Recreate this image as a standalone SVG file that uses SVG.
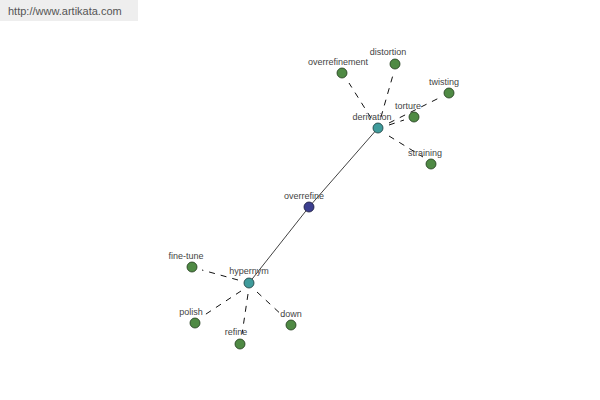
<svg xmlns="http://www.w3.org/2000/svg" width="600" height="400" viewBox="0 0 600 400">
<style>
.lbl{font-family:"Liberation Sans",Arial,sans-serif;font-size:9px;fill:#444;text-anchor:middle}
.leaf{fill:#4f8a44;stroke:#1f3a1a;stroke-width:0.8}
.hub{fill:#3f9b9b;stroke:#1a3a3a;stroke-width:0.8}
.root{fill:#3c3f8f;stroke:#1a1a3a;stroke-width:0.8}
.dash{stroke:#111;stroke-width:1;stroke-dasharray:6,6;fill:none}
.solid{stroke:#111;stroke-width:0.8;fill:none}
</style>
<rect x="0" y="0" width="138" height="21" fill="#eeeeee"/>
<text x="8" y="15" style="font-family:'Liberation Sans',Arial,sans-serif;font-size:11px;fill:#555">http://www.artikata.com</text>
<g id="connectors">
<line class="solid" x1="378" y1="128" x2="309" y2="207"/>
<line class="solid" x1="309" y1="207" x2="249" y2="283"/>
<line class="dash" x1="371" y1="118" x2="349" y2="83"/>
<line class="dash" x1="381" y1="117" x2="393" y2="75"/>
<line class="dash" x1="389" y1="123" x2="439" y2="98"/>
<line class="dash" x1="389" y1="125" x2="404" y2="120"/>
<line class="dash" x1="389" y1="136" x2="423" y2="157"/>
<line class="dash" x1="238" y1="280" x2="202" y2="270"/>
<line class="dash" x1="241" y1="291" x2="203" y2="316"/>
<line class="dash" x1="248" y1="294" x2="242" y2="334"/>
<line class="dash" x1="257" y1="292" x2="284" y2="317"/>
</g>
<g id="n-derivation"><circle class="hub" cx="378" cy="128" r="5"/><text class="lbl" x="372" y="120">derivation</text></g>
<g id="n-overrefine"><circle class="root" cx="309" cy="207" r="5"/><text class="lbl" x="304" y="199">overrefine</text></g>
<g id="n-hypernym"><circle class="hub" cx="249" cy="283" r="5"/><text class="lbl" x="249" y="274">hypernym</text></g>
<g id="n-overrefinement"><circle class="leaf" cx="342" cy="73" r="5"/><text class="lbl" x="338" y="65">overrefinement</text></g>
<g id="n-distortion"><circle class="leaf" cx="395" cy="64" r="5"/><text class="lbl" x="388" y="55">distortion</text></g>
<g id="n-twisting"><circle class="leaf" cx="449" cy="93" r="5"/><text class="lbl" x="444" y="85">twisting</text></g>
<g id="n-torture"><circle class="leaf" cx="414" cy="117" r="5"/><text class="lbl" x="408" y="109">torture</text></g>
<g id="n-straining"><circle class="leaf" cx="431" cy="164" r="5"/><text class="lbl" x="425" y="156">straining</text></g>
<g id="n-fine-tune"><circle class="leaf" cx="192" cy="267" r="5"/><text class="lbl" x="186" y="259">fine-tune</text></g>
<g id="n-polish"><circle class="leaf" cx="195" cy="323" r="5"/><text class="lbl" x="191" y="315">polish</text></g>
<g id="n-refine"><circle class="leaf" cx="240" cy="344" r="5"/><text class="lbl" x="236" y="335">refine</text></g>
<g id="n-down"><circle class="leaf" cx="291" cy="325" r="5"/><text class="lbl" x="291" y="317">down</text></g>
</svg>
